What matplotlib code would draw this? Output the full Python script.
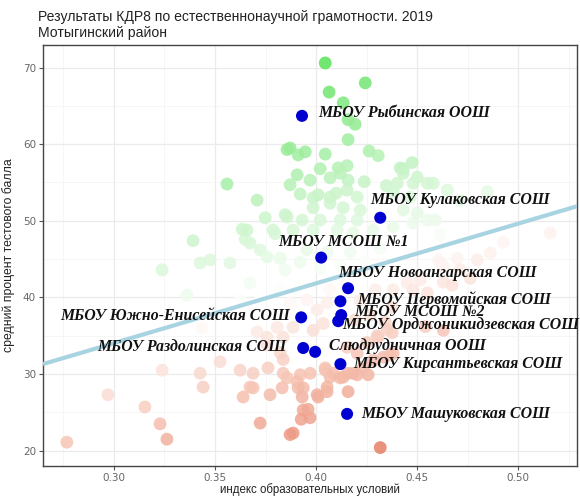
import matplotlib
matplotlib.use('Agg')
import matplotlib.pyplot as plt
import numpy as np
from matplotlib.colors import LinearSegmentedColormap, Normalize

# %% data
# all schools of the region: index of conditions vs mean test score
bg_x = [0.4045, 0.4243, 0.4064, 0.4134, 0.4158, 0.4193, 0.4158, 0.3871, 0.3911, 0.3946,
        0.4045, 0.4262, 0.4307, 0.4431, 0.4475, 0.4020, 0.4109, 0.4153, 0.3906, 0.3970,
        0.3871, 0.4069, 0.4158, 0.4238, 0.4347, 0.3559, 0.3708, 0.3748, 0.3797, 0.3634,
        0.3649, 0.3391, 0.3921, 0.3985, 0.4069, 0.4465, 0.4500, 0.4579, 0.4649, 0.4416,
        0.4119, 0.4401, 0.4550, 0.4010, 0.4099, 0.4153, 0.4203, 0.4069, 0.4134, 0.4218,
        0.3985, 0.3847, 0.3931, 0.4020, 0.4119, 0.4203, 0.3658, 0.3787, 0.3886, 0.3985,
        0.4104, 0.4183, 0.4282, 0.4381, 0.4480, 0.4550, 0.3673, 0.3723, 0.3955, 0.4054,
        0.4168, 0.4317, 0.3856, 0.3856, 0.3426, 0.3475, 0.3574, 0.3757, 0.3822, 0.3238,
        0.3361, 0.4431, 0.4500, 0.4589, 0.4614, 0.4381, 0.4480, 0.4431, 0.4847, 0.4713,
        0.5158, 0.4926, 0.4861, 0.4797, 0.4698, 0.4604, 0.4629, 0.4515, 0.4450, 0.4381,
        0.4480, 0.4629, 0.4614, 0.4713, 0.4762, 0.4673, 0.4550,
        0.4376, 0.4342, 0.4540, 0.4629, 0.4307, 0.4376, 0.4257, 0.4158, 0.4069, 0.3970,
        0.3921, 0.3911, 0.3931, 0.4010, 0.4054, 0.4158, 0.3936, 0.3886, 0.3970, 0.4317,
        0.3960, 0.3723, 0.3832, 0.3906, 0.3624, 0.3688, 0.3762, 0.3673, 0.3639, 0.3525,
        0.3436, 0.3238, 0.3426, 0.3837, 0.2970, 0.3153, 0.3228, 0.3262, 0.2767, 0.3871,
        0.3708, 0.3757, 0.3822, 0.3837, 0.3856, 0.4045, 0.4045, 0.4084, 0.4134, 0.4183,
        0.4233, 0.4282, 0.4332, 0.4381, 0.4203, 0.4153, 0.4252, 0.4351, 0.3936, 0.4054,
        0.3688, 0.3772, 0.4005, 0.3837, 0.3886, 0.3985, 0.4035, 0.4005, 0.4054, 0.3955,
        0.3871, 0.3807, 0.3757, 0.3441, 0.4119, 0.4203, 0.4302, 0.4366, 0.3926,
        0.4069, 0.4144, 0.4218, 0.4292, 0.3921, 0.3822, 0.3723, 0.4193, 0.4267, 0.3673,
        0.3624, 0.3921, 0.4020, 0.4119, 0.4243, 0.3847]
bg_y = [70.6, 68.0, 66.8, 65.4, 63.2, 62.6, 60.6, 59.5, 58.6, 59.0,
        58.7, 59.1, 58.5, 56.8, 57.6, 56.8, 56.9, 57.2, 56.0, 55.3,
        54.7, 55.6, 55.3, 55.1, 54.6, 54.8, 52.7, 50.4, 48.3, 48.9,
        47.6, 47.4, 53.5, 53.0, 53.1, 53.1, 55.7, 54.9, 54.0, 56.9,
        56.2, 54.9, 54.9, 53.4, 53.6, 54.0, 53.1, 52.3, 51.7, 51.4,
        51.7, 50.8, 50.1, 50.1, 50.1, 50.1, 48.8, 48.8, 48.8, 48.8,
        48.8, 48.4, 48.8, 49.2, 49.7, 50.1, 47.1, 46.2, 46.2, 45.9,
        45.9, 46.4, 59.3, 50.5, 44.5, 44.9, 44.5, 45.3, 45.1, 43.6,
        40.3, 51.4, 51.0, 50.1, 48.2, 53.8, 54.9, 56.2, 53.8, 52.7,
        48.4, 47.2, 45.8, 44.9, 45.1, 44.9, 44.0, 42.3, 41.9, 41.0,
        41.0, 42.0, 44.6, 43.6, 42.5, 41.6, 40.6,
        38.7, 36.8, 36.2, 35.7, 34.8, 35.4, 29.9, 30.1, 29.6, 30.1,
        29.9, 28.2, 27.0, 27.0, 27.7, 27.7, 25.3, 22.3, 24.3, 20.4,
        25.4, 23.6, 28.2, 29.0, 30.5, 30.1, 30.8, 28.3, 27.0, 31.6,
        36.0, 30.5, 30.1, 30.1, 27.3, 25.7, 23.5, 21.5, 21.1, 22.1,
        35.5, 33.8, 32.8, 31.9, 29.5, 30.5, 30.8, 30.1, 29.6, 30.1,
        30.9, 31.8, 32.2, 32.7, 32.7, 33.5, 34.1, 35.8, 28.2, 28.3,
        28.2, 27.3, 27.3, 34.8, 36.1, 35.7, 36.6, 38.4, 39.3, 39.7,
        39.3, 36.1, 34.8, 28.3, 29.5, 29.9, 35.0, 32.5, 24.1,
        41.0, 41.6, 39.6, 41.0, 41.6, 41.0, 39.7, 37.1, 37.7, 41.9,
        39.7, 44.6, 43.8, 44.2, 44.6, 43.6]

# schools of Мотыгинский район
schools = ['МБОУ Рыбинская ООШ', 'МБОУ Кулаковская СОШ', 'МБОУ МСОШ №1',
           'МБОУ Новоангарская СОШ', 'МБОУ Первомайская СОШ', 'МБОУ МСОШ №2',
           'МБОУ Орджоникидзевская СОШ', 'МБОУ Южно-Енисейская СОШ',
           'МБОУ Раздолинская СОШ', 'Слюдрудничная ООШ',
           'МБОУ Кирсантьевская СОШ', 'МБОУ Машуковская СОШ']
sch_x = [0.393, 0.4317, 0.4025, 0.4158, 0.412, 0.4124, 0.4109, 0.3926, 0.3936, 0.3995, 0.412, 0.4153]
sch_y = [63.7, 50.4, 45.2, 41.2, 39.5, 37.7, 36.9, 37.4, 33.4, 32.9, 31.3, 24.8]

# linear fit line end points
fit_x = [0.2649, 0.529]
fit_y = [31.3, 51.9]

# %% layout of labels (offset in points, alignment)
lab_off = [(12, 2), (-7, 13), (-31, 11), (-7, 11), (12, 1), (9, 2),
           (3, -3), (-8, 1), (-12, 1), (10, 4), (9, 0), (10, 0)]
lab_ha = ['left', 'left', 'left', 'left', 'left', 'left',
          'left', 'right', 'right', 'left', 'left', 'left']

# %% plot
fig = plt.figure(figsize=(5.8, 4.96), dpi=100)
ax = fig.add_axes([0.0741, 0.0605, 0.9207, 0.849])

slope = (fit_y[1] - fit_y[0]) / (fit_x[1] - fit_x[0])
bx = np.array(bg_x)
by = np.array(bg_y)
resid = by - (fit_y[0] + slope * (bx - fit_x[0]))
m = np.abs(resid).max()

cmap = LinearSegmentedColormap.from_list(
    'rw', [(0.0, '#E2664A'), (0.3, '#F6C4B4'), (0.5, '#FFFFFF'),
           (0.7, '#C8F4C8'), (1.0, '#58E258')])
ax.scatter(bx, by, c=resid, cmap=cmap, norm=Normalize(-m, m), s=85,
           alpha=0.85, edgecolors='none', zorder=2)

ax.plot(fit_x, fit_y, color='#A8D4E2', lw=3, zorder=3, solid_capstyle='butt')

ax.scatter(sch_x, sch_y, color='#0000D0', s=75, edgecolors='none', zorder=4)

for i, name in enumerate(schools):
    ax.annotate(name, (sch_x[i], sch_y[i]), xytext=lab_off[i], textcoords='offset points',
                ha=lab_ha[i], va='center', fontsize=11.4, fontweight='bold',
                fontstyle='italic', family='Liberation Serif', color='#111111', zorder=5)

ax.set_xlim(0.2649, 0.529)
ax.set_ylim(18.0, 72.96)
ax.set_xticks([0.30, 0.35, 0.40, 0.45, 0.50])
ax.set_xticklabels(['0.30', '0.35', '0.40', '0.45', '0.50'])
ax.set_yticks([20, 30, 40, 50, 60, 70])
ax.set_xticks(np.arange(0.275, 0.53, 0.05), minor=True)
ax.set_yticks([25, 35, 45, 55, 65], minor=True)
ax.grid(which='major', color='#EBEBEB', lw=0.9, zorder=0)
ax.grid(which='minor', color='#F3F3F3', lw=0.5, zorder=0)
ax.set_axisbelow(True)
ax.tick_params(which='minor', length=0)
ax.tick_params(which='major', length=3, color='#555555', labelsize=7.5,
               labelcolor='#666666', pad=2)
for s in ax.spines.values():
    s.set_color('#444444')
    s.set_linewidth(1)

ax.set_xlabel('индекс образовательных условий', fontsize=8.3, color='#222222',
              family='Liberation Sans', labelpad=0)
ax.set_ylabel('средний процент тестового балла', fontsize=8.8, color='#222222',
              family='Liberation Sans', labelpad=6)

fig.text(0.065, 0.966, 'Результаты КДР8 по естественнонаучной грамотности. 2019',
         ha='left', va='center', fontsize=10.1, family='Liberation Sans', color='#222222')
fig.text(0.065, 0.934, 'Мотыгинский район',
         ha='left', va='center', fontsize=10.1, family='Liberation Sans', color='#222222')

plt.savefig('out.png', dpi=100)
